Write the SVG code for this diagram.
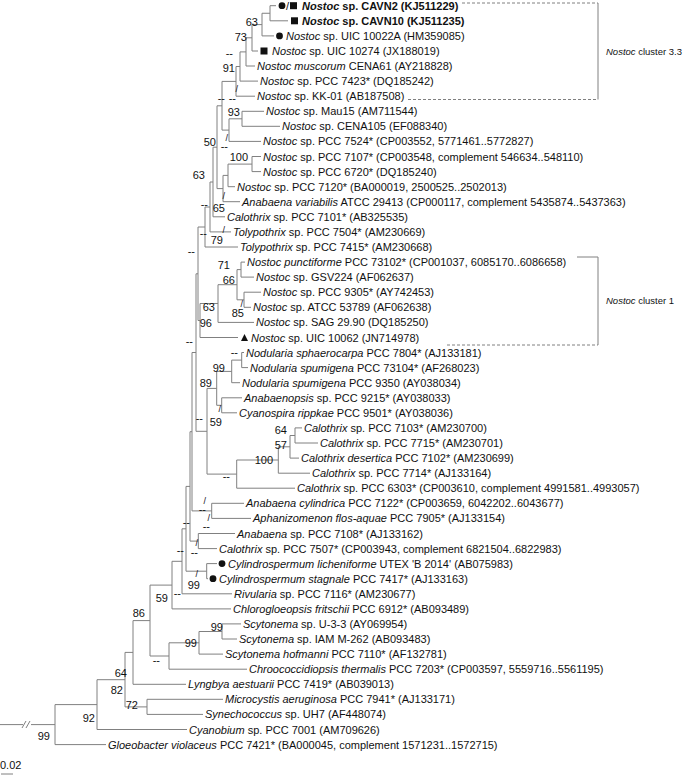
<svg xmlns="http://www.w3.org/2000/svg" width="685" height="776" viewBox="0 0 685 776">
<style>
text{font-family:"Liberation Sans",Arial,sans-serif;font-size:11px;fill:#111}
.i{font-style:italic}
.b{font-weight:bold}
.s{text-anchor:end}
.k{font-size:9px}
.c{font-size:9.5px}
.e{stroke:#808080;stroke-width:1;fill:none}
.d{stroke:#808080;stroke-width:1;fill:none;stroke-dasharray:3 2}
.m{fill:#111}
</style>
<rect width="685" height="776" fill="#fff"/>
<g id="connectors">
<path class="e" d="M270 5.7V20.8M270 5.7H276M270 20.8H288
M262 13.25V35.9M262 13.25H270M262 35.9H274
M252 24.6V51M252 24.6H262M252 51H258
M246 37.8V66M246 37.8H252M246 66H255
M240 51.9V81.1M240 51.9H246M240 81.1H258
M236 66.5V96.2M236 66.5H240M236 96.2H255
M242 111.3V126.3M242 111.3H264M242 126.3H280
M229 118.8V141.4M229 118.8H242M229 141.4H261
M222 81.4V130.1M222 81.4H236M222 130.1H229
M252 156.5V171.6M252 156.5H261M252 171.6H261
M228 164.1V186.7M228 164.1H252M228 186.7H235
M223 175.4V201.7M223 175.4H228M223 201.7H240
M217 105.8V188.6M217 105.8H222M217 188.6H223
M213 147.2V216.8M213 147.2H217M213 216.8H225
M210 182V231.9M210 182H213M210 231.9H231
M205 207V247M205 207H210M205 247H238
M241 262.1V277.1M241 262.1H245M241 277.1H254
M244 292.2V307.3M244 292.2H261M244 307.3H251
M237 269.6V299.8M237 269.6H241M237 299.8H244
M218 284.7V322.4M218 284.7H237M218 322.4H254
M200 303.5V337.5M200 303.5H218M200 337.5H238
M198 227V320.5M198 227H205M198 320.5H200
M241.7 352.5V367.6M241.7 352.5H244M241.7 367.6H248
M231.7 360.1V382.7M231.7 360.1H241.7M231.7 382.7H240
M221.7 397.8V412.8M221.7 397.8H242M221.7 412.8H237
M216.7 371.4V405.3M216.7 371.4H231.7M216.7 405.3H221.7
M295 427.9V443M295 427.9H302M295 443H318
M290 435.5V458.1M290 435.5H295M290 458.1H299
M278.3 446.8V473.2M278.3 446.8H290M278.3 473.2H310
M236.7 460V488.2M236.7 460H278.3M236.7 488.2H295
M207 388.4V474.1M207 388.4H216.7M207 474.1H236.7
M196 273.8V431.3M196 273.8H198M196 431.3H207
M211.7 503.3V518.4M211.7 503.3H244M211.7 518.4H251
M192 352.5V510.9M192 352.5H196M192 510.9H211.7
M198.3 533.5V548.6M198.3 533.5H235M198.3 548.6H217
M190 431.7V541.1M190 431.7H192M190 541.1H198.3
M206.7 563.6V578.7M206.7 563.6H217M206.7 578.7H208
M186 486.4V571.2M186 486.4H190M186 571.2H206.7
M182 528.8V593.8M182 528.8H186M182 593.8H232
M172 561.3V608.9M172 561.3H182M172 608.9H231
M222 623.9V639M222 623.9H241M222 639H237
M199 631.5V654.1M199 631.5H222M199 654.1H223
M169 642.8V669.2M169 642.8H199M169 669.2H247
M150 585.1V656M150 585.1H172M150 656H169
M133 620.6V684.3M133 620.6H150M133 684.3H186
M147 699.3V714.4M147 699.3H223M147 714.4H203
M125 652.4V706.9M125 652.4H133M125 706.9H147
M97 679.7V729.5M97 679.7H125M97 729.5H187
M55 704.6V744.6M55 704.6H97M55 744.6H106
M0 724.6H23M31 724.6H55
M22 728L26 721M26 728L30 721"/>
<path class="d" d="M462 3H598M408 99.5H598M447 345H598"/>
<path class="e" d="M598 3V99.5M577 257H598V345"/>
<path class="e" d="M1 774H13"/>
</g>
<g id="support">
<text class="s" x="258" y="26">63</text>
<text class="s" x="247" y="41">73</text>
<text class="s" x="233" y="57">--</text>
<text class="s" x="235" y="72">91</text>
<text class="s k" x="238" y="92">/</text>
<text class="s" x="236" y="102">--</text>
<text class="s" x="225" y="102">--</text>
<text class="s" x="240" y="116">93</text>
<text class="s k" x="228" y="141">/</text>
<text class="s" x="228" y="150">--</text>
<text class="s" x="216" y="146">50</text>
<text class="s" x="248" y="161">100</text>
<text class="s" x="205" y="179">63</text>
<text class="s k" x="225" y="199">/</text>
<text class="s" x="225" y="212">65</text>
<text class="s" x="208" y="208">--</text>
<text class="s" x="207" y="237">--</text>
<text class="s k" x="225" y="233">/</text>
<text class="s" x="223" y="244">79</text>
<text class="s" x="195" y="255">--</text>
<text class="s" x="230" y="269">71</text>
<text class="s" x="235" y="284">66</text>
<text class="s k" x="243" y="307">/</text>
<text class="s" x="244" y="317">85</text>
<text class="s" x="215" y="311">63</text>
<text class="s" x="212" y="327">96</text>
<text class="s" x="193" y="345">--</text>
<text class="s" x="238" y="356">--</text>
<text class="s" x="225" y="372">99</text>
<text class="s" x="212" y="387">89</text>
<text class="s k" x="221" y="412">/</text>
<text class="s" x="222" y="426">59</text>
<text class="s" x="203" y="422">--</text>
<text class="s" x="287" y="434">64</text>
<text class="s" x="287" y="449">57</text>
<text class="s" x="273" y="464">100</text>
<text class="s" x="230" y="480">--</text>
<text class="s k" x="206" y="504">/</text>
<text class="s" x="206" y="513">--</text>
<text class="s k" x="210" y="521">/</text>
<text class="s" x="210" y="530">--</text>
<text class="s" x="190" y="526">--</text>
<text class="s k" x="198" y="546">/</text>
<text class="s" x="198" y="556">--</text>
<text class="s" x="184" y="554">--</text>
<text class="s k" x="198" y="577">/</text>
<text class="s" x="200" y="589">99</text>
<text class="s" x="181" y="597">--</text>
<text class="s" x="168" y="602">59</text>
<text class="s" x="145" y="617">86</text>
<text class="s" x="223" y="631">99</text>
<text class="s" x="197" y="647">99</text>
<text class="s" x="160" y="664">--</text>
<text class="s" x="127" y="677">64</text>
<text class="s" x="123" y="694">82</text>
<text class="s" x="138" y="709">72</text>
<text class="s" x="95" y="722">92</text>
<text class="s" x="50" y="740">99</text>
</g>
<g id="n1"><circle class="m" cx="282" cy="5.7" r="3.4"/><text x="286" y="9.7">/</text><rect class="m" x="290" y="2.2" width="7" height="7"/><text class="b" x="302" y="9.7"><tspan class="i">Nostoc</tspan> sp. CAVN2 (KJ511229)</text></g>
<g id="n2"><rect class="m" x="291" y="17.3" width="7" height="7"/><text class="b" x="302" y="24.8"><tspan class="i">Nostoc</tspan> sp. CAVN10 (KJ511235)</text></g>
<g id="n3"><circle class="m" cx="279.5" cy="35.9" r="3.4"/><text x="286" y="39.9"><tspan class="i">Nostoc</tspan> sp. UIC 10022A (HM359085)</text></g>
<g id="n4"><rect class="m" x="260.5" y="47.5" width="7" height="7"/><text x="272" y="55"><tspan class="i">Nostoc</tspan> sp. UIC 10274 (JX188019)</text></g>
<g id="n5"><text x="257" y="70"><tspan class="i">Nostoc muscorum</tspan> CENA61 (AY218828)</text></g>
<g id="n6"><text x="260" y="85.1"><tspan class="i">Nostoc</tspan> sp. PCC 7423* (DQ185242)</text></g>
<g id="n7"><text x="257" y="100.2"><tspan class="i">Nostoc</tspan> sp. KK-01 (AB187508)</text></g>
<g id="n8"><text x="266" y="115.3"><tspan class="i">Nostoc</tspan> sp. Mau15 (AM711544)</text></g>
<g id="n9"><text x="282" y="130.3"><tspan class="i">Nostoc</tspan> sp. CENA105 (EF088340)</text></g>
<g id="n10"><text x="263" y="145.4"><tspan class="i">Nostoc</tspan> sp. PCC 7524* (CP003552, 5771461..5772827)</text></g>
<g id="n11"><text x="263" y="160.5"><tspan class="i">Nostoc</tspan> sp. PCC 7107* (CP003548, complement 546634..548110)</text></g>
<g id="n12"><text x="263" y="175.6"><tspan class="i">Nostoc</tspan> sp. PCC 6720* (DQ185240)</text></g>
<g id="n13"><text x="237" y="190.7"><tspan class="i">Nostoc</tspan> sp. PCC 7120* (BA000019, 2500525..2502013)</text></g>
<g id="n14"><text x="242" y="205.7"><tspan class="i">Anabaena variabilis</tspan> ATCC 29413 (CP000117, complement 5435874..5437363)</text></g>
<g id="n15"><text x="227" y="220.8"><tspan class="i">Calothrix</tspan> sp. PCC 7101* (AB325535)</text></g>
<g id="n16"><text x="233" y="235.9"><tspan class="i">Tolypothrix</tspan> sp. PCC 7504* (AM230669)</text></g>
<g id="n17"><text x="240" y="251"><tspan class="i">Tolypothrix</tspan> sp. PCC 7415* (AM230668)</text></g>
<g id="n18"><text x="247" y="266.1"><tspan class="i">Nostoc punctiforme</tspan> PCC 73102* (CP001037, 6085170..6086658)</text></g>
<g id="n19"><text x="256" y="281.1"><tspan class="i">Nostoc</tspan> sp. GSV224 (AF062637)</text></g>
<g id="n20"><text x="263" y="296.2"><tspan class="i">Nostoc</tspan> sp. PCC 9305* (AY742453)</text></g>
<g id="n21"><text x="253" y="311.3"><tspan class="i">Nostoc</tspan> sp. ATCC 53789 (AF062638)</text></g>
<g id="n22"><text x="256" y="326.4"><tspan class="i">Nostoc</tspan> sp. SAG 29.90 (DQ185250)</text></g>
<g id="n23"><polygon class="m" points="241,341 248,341 244.5,334"/><text x="251" y="341.5"><tspan class="i">Nostoc</tspan> sp. UIC 10062 (JN714978)</text></g>
<g id="n24"><text x="246" y="356.5"><tspan class="i">Nodularia sphaerocarpa</tspan> PCC 7804* (AJ133181)</text></g>
<g id="n25"><text x="250" y="371.6"><tspan class="i">Nodularia spumigena</tspan> PCC 73104* (AF268023)</text></g>
<g id="n26"><text x="242" y="386.7"><tspan class="i">Nodularia spumigena</tspan> PCC 9350 (AY038034)</text></g>
<g id="n27"><text x="244" y="401.8"><tspan class="i">Anabaenopsis</tspan> sp. PCC 9215* (AY038033)</text></g>
<g id="n28"><text x="239" y="416.8"><tspan class="i">Cyanospira rippkae</tspan> PCC 9501* (AY038036)</text></g>
<g id="n29"><text x="304" y="431.9"><tspan class="i">Calothrix</tspan> sp. PCC 7103* (AM230700)</text></g>
<g id="n30"><text x="320" y="447"><tspan class="i">Calothrix</tspan> sp. PCC 7715* (AM230701)</text></g>
<g id="n31"><text x="301" y="462.1"><tspan class="i">Calothrix desertica</tspan> PCC 7102* (AM230699)</text></g>
<g id="n32"><text x="312" y="477.2"><tspan class="i">Calothrix</tspan> sp. PCC 7714* (AJ133164)</text></g>
<g id="n33"><text x="297" y="492.2"><tspan class="i">Calothrix</tspan> sp. PCC 6303* (CP003610, complement 4991581..4993057)</text></g>
<g id="n34"><text x="246" y="507.3"><tspan class="i">Anabaena cylindrica</tspan> PCC 7122* (CP003659, 6042202..6043677)</text></g>
<g id="n35"><text x="253" y="522.4"><tspan class="i">Aphanizomenon flos-aquae</tspan> PCC 7905* (AJ133154)</text></g>
<g id="n36"><text x="237" y="537.5"><tspan class="i">Anabaena</tspan> sp. PCC 7108* (AJ133162)</text></g>
<g id="n37"><text x="219" y="552.6"><tspan class="i">Calothrix</tspan> sp. PCC 7507* (CP003943, complement 6821504..6822983)</text></g>
<g id="n38"><circle class="m" cx="222" cy="563.6" r="3.4"/><text x="228" y="567.6"><tspan class="i">Cylindrospermum licheniforme</tspan> UTEX 'B 2014' (AB075983)</text></g>
<g id="n39"><circle class="m" cx="213" cy="578.7" r="3.4"/><text x="219" y="582.7"><tspan class="i">Cylindrospermum stagnale</tspan> PCC 7417* (AJ133163)</text></g>
<g id="n40"><text x="234" y="597.8"><tspan class="i">Rivularia</tspan> sp. PCC 7116* (AM230677)</text></g>
<g id="n41"><text x="233" y="612.9"><tspan class="i">Chlorogloeopsis fritschii</tspan> PCC 6912* (AB093489)</text></g>
<g id="n42"><text x="243" y="627.9"><tspan class="i">Scytonema</tspan> sp. U-3-3 (AY069954)</text></g>
<g id="n43"><text x="239" y="643"><tspan class="i">Scytonema</tspan> sp. IAM M-262 (AB093483)</text></g>
<g id="n44"><text x="225" y="658.1"><tspan class="i">Scytonema hofmanni</tspan> PCC 7110* (AF132781)</text></g>
<g id="n45"><text x="249" y="673.2"><tspan class="i">Chroococcidiopsis thermalis</tspan> PCC 7203* (CP003597, 5559716..5561195)</text></g>
<g id="n46"><text x="188" y="688.3"><tspan class="i">Lyngbya aestuarii</tspan> PCC 7419* (AB039013)</text></g>
<g id="n47"><text x="225" y="703.3"><tspan class="i">Microcystis aeruginosa</tspan> PCC 7941* (AJ133171)</text></g>
<g id="n48"><text x="205" y="718.4"><tspan class="i">Synechococcus</tspan> sp. UH7 (AF448074)</text></g>
<g id="n49"><text x="189" y="733.5"><tspan class="i">Cyanobium</tspan> sp. PCC 7001 (AM709626)</text></g>
<g id="n50"><text x="108" y="748.6"><tspan class="i">Gloeobacter violaceus</tspan> PCC 7421* (BA000045, complement 1571231..1572715)</text></g>
<g id="cluster33"><text class="c" x="606" y="55"><tspan class="i">Nostoc</tspan> cluster 3.3</text></g>
<g id="cluster1"><text class="c" x="606" y="304"><tspan class="i">Nostoc</tspan> cluster 1</text></g>
<g id="scale"><text x="0" y="769">0.02</text></g>
</svg>
